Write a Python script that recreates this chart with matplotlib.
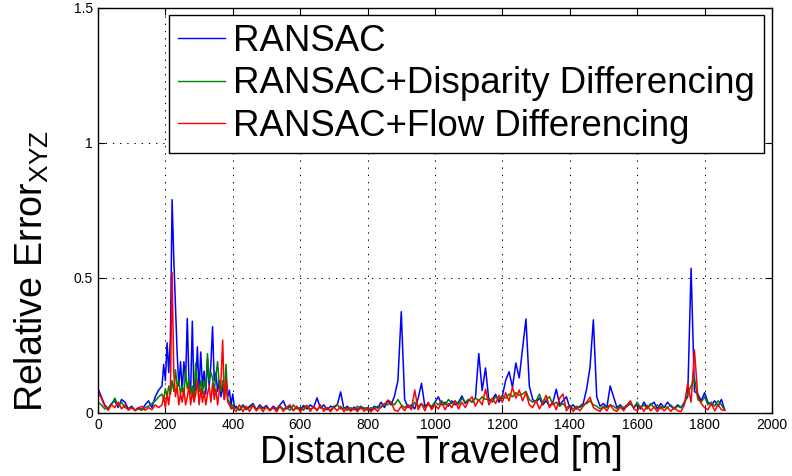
import numpy as np
import matplotlib
matplotlib.use('Agg')
import matplotlib.pyplot as plt

plt.rcParams['font.family'] = ['Liberation Sans', 'DejaVu Sans']
plt.rcParams['mathtext.fontset'] = 'custom'
plt.rcParams['mathtext.rm'] = 'Liberation Sans'
plt.rcParams['mathtext.it'] = 'Liberation Sans:italic'

# sample positions along the track [m] (finer in the 190-405 m cluster)
dist = np.concatenate([np.arange(0, 181, 10), np.arange(190, 406, 5), np.arange(410, 1861, 10)])

# relative XYZ error
err_ransac = [
    # 0 - 180 m
    0.090, 0.060, 0.030, 0.015, 0.035, 0.045, 0.020, 0.050, 0.040, 0.015,
    0.025, 0.010, 0.020, 0.012, 0.030, 0.045, 0.020, 0.060, 0.085,
    # 190 - 405 m
    0.10, 0.18, 0.12, 0.26, 0.15, 0.28, 0.79, 0.57, 0.39, 0.22,
    0.10, 0.19, 0.08, 0.19, 0.12, 0.35, 0.12, 0.08, 0.34, 0.06,
    0.10, 0.245, 0.08, 0.226, 0.10, 0.155, 0.07, 0.20, 0.10, 0.18,
    0.32, 0.12, 0.15, 0.08, 0.12, 0.06, 0.10, 0.05, 0.12, 0.06,
    0.085, 0.03, 0.07, 0.02,
    # 410 - 1860 m
    0.025, 0.010, 0.030, 0.015, 0.025, 0.035, 0.012, 0.030, 0.018, 0.028,
    0.010, 0.025, 0.015, 0.030, 0.045, 0.015, 0.025, 0.010, 0.022, 0.012,
    0.028, 0.015, 0.030, 0.020, 0.056, 0.018, 0.030, 0.012, 0.025, 0.020,
    0.030, 0.078, 0.015, 0.025, 0.010, 0.022, 0.012, 0.025, 0.015, 0.020,
    0.010, 0.025, 0.018, 0.040, 0.020, 0.045, 0.030, 0.063, 0.120, 0.375,
    0.050, 0.020, 0.030, 0.015, 0.054, 0.110, 0.025, 0.035, 0.020, 0.040,
    0.060, 0.030, 0.040, 0.025, 0.045, 0.030, 0.040, 0.063, 0.035, 0.050,
    0.040, 0.055, 0.220, 0.083, 0.167, 0.045, 0.050, 0.069, 0.040, 0.063,
    0.122, 0.153, 0.095, 0.185, 0.130, 0.240, 0.348, 0.100, 0.050, 0.040,
    0.055, 0.030, 0.045, 0.025, 0.040, 0.088, 0.030, 0.045, 0.060, 0.020,
    0.030, 0.015, 0.025, 0.035, 0.088, 0.168, 0.345, 0.060, 0.025, 0.035,
    0.020, 0.100, 0.060, 0.020, 0.030, 0.015, 0.025, 0.035, 0.020, 0.030,
    0.015, 0.040, 0.020, 0.030, 0.040, 0.015, 0.035, 0.020, 0.040, 0.025,
    0.015, 0.030, 0.020, 0.040, 0.060, 0.536, 0.080, 0.070, 0.045, 0.075,
    0.040, 0.030, 0.045, 0.025, 0.050, 0.010,
]

err_disparity = [
    # 0 - 180 m
    0.040, 0.030, 0.015, 0.020, 0.030, 0.055, 0.025, 0.040, 0.020, 0.015,
    0.020, 0.010, 0.015, 0.010, 0.020, 0.025, 0.035, 0.045, 0.060,
    # 190 - 405 m
    0.07, 0.05, 0.09, 0.06, 0.10, 0.07, 0.12, 0.08, 0.16, 0.10,
    0.12, 0.07, 0.10, 0.06, 0.16, 0.09, 0.12, 0.07, 0.10, 0.06,
    0.185, 0.10, 0.08, 0.12, 0.07, 0.12, 0.09, 0.22, 0.12, 0.15,
    0.13, 0.08, 0.14, 0.19, 0.10, 0.08, 0.12, 0.06, 0.18, 0.05,
    0.04, 0.02, 0.03, 0.015,
    # 410 - 1860 m
    0.020, 0.010, 0.025, 0.012, 0.020, 0.030, 0.010, 0.025, 0.015, 0.020,
    0.010, 0.020, 0.012, 0.025, 0.015, 0.020, 0.010, 0.030, 0.015, 0.020,
    0.010, 0.025, 0.015, 0.020, 0.012, 0.025, 0.015, 0.020, 0.010, 0.025,
    0.030, 0.015, 0.020, 0.010, 0.020, 0.012, 0.025, 0.015, 0.020, 0.010,
    0.020, 0.015, 0.025, 0.020, 0.035, 0.030, 0.040, 0.030, 0.050, 0.030,
    0.020, 0.030, 0.015, 0.040, 0.025, 0.035, 0.020, 0.030, 0.025, 0.040,
    0.030, 0.045, 0.030, 0.050, 0.035, 0.045, 0.030, 0.055, 0.040, 0.050,
    0.040, 0.056, 0.045, 0.060, 0.050, 0.055, 0.040, 0.060, 0.050, 0.065,
    0.055, 0.070, 0.060, 0.075, 0.065, 0.070, 0.080, 0.050, 0.040, 0.045,
    0.070, 0.035, 0.050, 0.060, 0.030, 0.040, 0.025, 0.035, 0.020, 0.025,
    0.015, 0.025, 0.020, 0.030, 0.035, 0.045, 0.030, 0.025, 0.015, 0.025,
    0.020, 0.030, 0.025, 0.015, 0.025, 0.020, 0.030, 0.035, 0.020, 0.040,
    0.020, 0.030, 0.015, 0.035, 0.020, 0.030, 0.015, 0.025, 0.020, 0.030,
    0.015, 0.025, 0.020, 0.035, 0.070, 0.100, 0.130, 0.050, 0.040, 0.060,
    0.030, 0.040, 0.025, 0.045, 0.030, 0.010,
]

err_flow = [
    # 0 - 180 m
    0.078, 0.055, 0.025, 0.010, 0.030, 0.020, 0.040, 0.015, 0.030, 0.010,
    0.020, 0.008, 0.018, 0.025, 0.010, 0.020, 0.012, 0.030, 0.020,
    # 190 - 405 m
    0.03, 0.06, 0.02, 0.07, 0.03, 0.10, 0.52, 0.15, 0.06, 0.10,
    0.03, 0.07, 0.04, 0.09, 0.03, 0.06, 0.10, 0.03, 0.08, 0.04,
    0.07, 0.12, 0.03, 0.09, 0.04, 0.08, 0.03, 0.07, 0.10, 0.04,
    0.11, 0.05, 0.09, 0.03, 0.08, 0.12, 0.27, 0.05, 0.12, 0.04,
    0.03, 0.015, 0.02, 0.01,
    # 410 - 1860 m
    0.006, 0.030, 0.005, 0.025, 0.006, 0.028, 0.008, 0.022, 0.005, 0.025,
    0.008, 0.020, 0.004, 0.025, 0.006, 0.022, 0.030, 0.008, 0.025, 0.005,
    0.020, 0.028, 0.006, 0.025, 0.008, 0.030, 0.006, 0.020, 0.005, 0.022,
    0.008, 0.025, 0.005, 0.020, 0.006, 0.018, 0.005, 0.022, 0.006, 0.020,
    0.004, 0.018, 0.006, 0.025, 0.030, 0.048, 0.040, 0.010, 0.006, 0.025,
    0.008, 0.030, 0.012, 0.085, 0.012, 0.035, 0.008, 0.040, 0.012, 0.030,
    0.015, 0.040, 0.012, 0.035, 0.020, 0.045, 0.015, 0.040, 0.020, 0.045,
    0.060, 0.025, 0.050, 0.030, 0.088, 0.030, 0.055, 0.035, 0.065, 0.040,
    0.075, 0.045, 0.095, 0.055, 0.085, 0.045, 0.075, 0.030, 0.020, 0.045,
    0.015, 0.040, 0.065, 0.020, 0.040, 0.012, 0.055, 0.070, 0.008, 0.025,
    0.006, 0.020, 0.008, 0.025, 0.040, 0.058, 0.020, 0.012, 0.006, 0.022,
    0.008, 0.030, 0.012, 0.006, 0.022, 0.008, 0.030, 0.045, 0.015, 0.008,
    0.025, 0.006, 0.028, 0.008, 0.022, 0.005, 0.025, 0.008, 0.020, 0.006,
    0.022, 0.008, 0.005, 0.030, 0.110, 0.040, 0.233, 0.060, 0.035, 0.020,
    0.012, 0.035, 0.008, 0.030, 0.012, 0.010,
]

labels = ['RANSAC', 'RANSAC+Disparity Differencing', 'RANSAC+Flow Differencing']
colors = ['#0000ff', '#008000', '#ff0000']

fig = plt.figure(figsize=(7.92, 4.76), dpi=100)
ax = fig.add_axes([0.1237, 0.1324, 0.851, 0.8508])

for err, lab, col in zip([err_ransac, err_disparity, err_flow], labels, colors):
    ax.plot(dist, err, color=col, linewidth=1.1, label=lab)

ax.set_xlim(0, 2000)
ax.set_ylim(0, 1.5)
ax.set_xticks(np.arange(0, 2001, 200))
ax.set_yticks([0, 0.5, 1, 1.5])
ax.set_yticklabels(['0', '0.5', '1', '1.5'])
ax.tick_params(direction='in', length=5, width=0.8, top=True, right=True, labelsize=10)
ax.grid(True, color='k', linestyle=(0, (1.4, 6)), linewidth=0.7)
for sp in ax.spines.values():
    sp.set_linewidth(1.0)

ax.set_xlabel('Distance Traveled [m]', fontsize=27)
ax.xaxis.set_label_coords(0.509, -0.055)
ax.xaxis.label.set_va('top')
ax.set_ylabel(r'Relative Error$_{\mathrm{XYZ}}$', fontsize=27)
ax.yaxis.set_label_coords(-0.07, 0.35)

leg = ax.legend(loc='upper right', bbox_to_anchor=(0.988, 0.983), fontsize=26.4,
                fancybox=False, edgecolor='k', framealpha=1, borderaxespad=0,
                borderpad=0.25, labelspacing=0.2, handlelength=1.3, handletextpad=0.2)
leg.get_frame().set_linewidth(1.0)
for h in leg.get_lines():
    h.set_linewidth(1.0)

fig.savefig('out.png', dpi=100)
